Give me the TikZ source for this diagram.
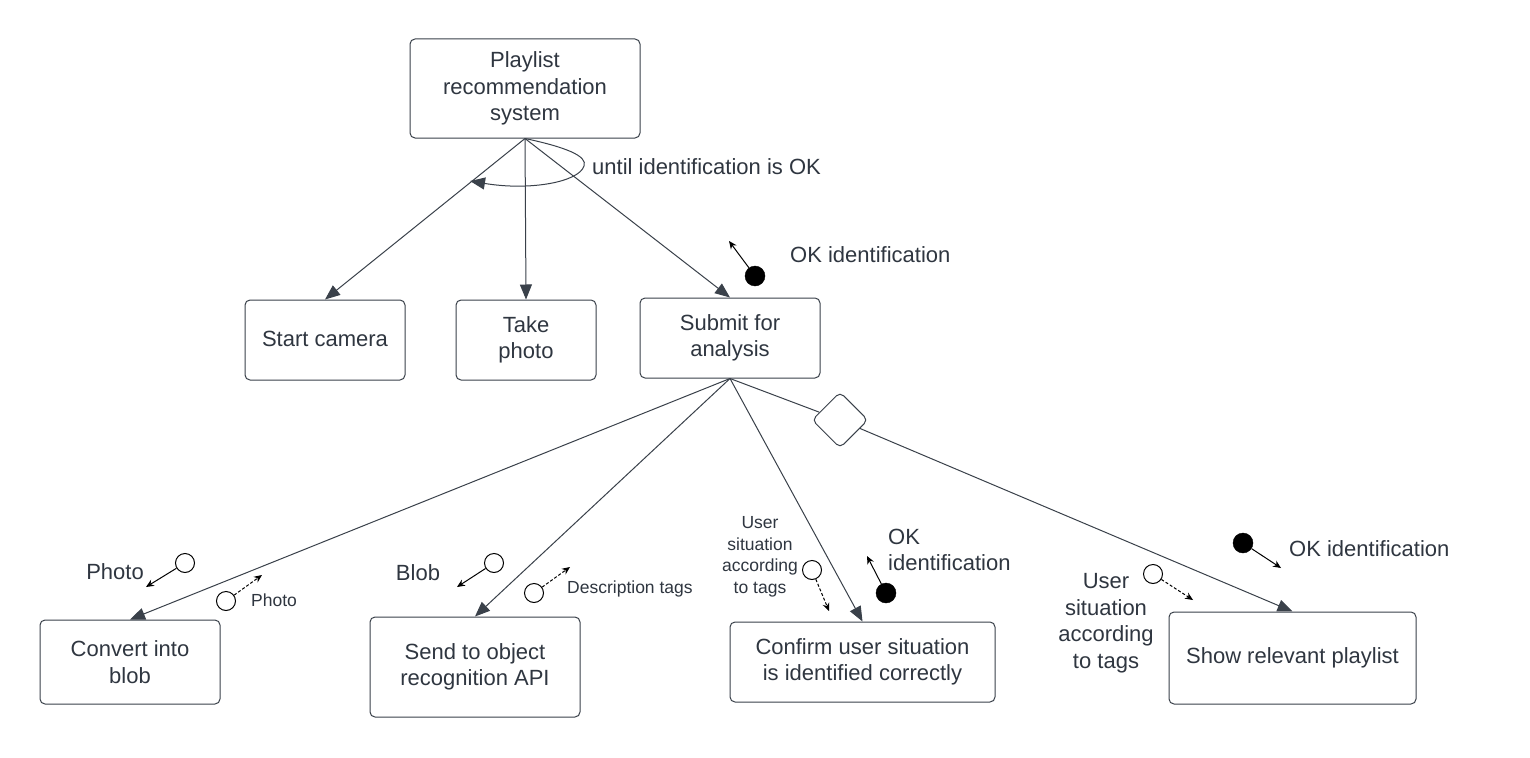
\documentclass[tikz,border=0pt]{standalone}
\usepackage{fontspec}
\setmainfont{Liberation Sans}
\usetikzlibrary{arrows.meta,shapes.geometric}
\definecolor{ln}{HTML}{3A414A}
\definecolor{txt}{HTML}{2F3640}
\tikzset{
  box/.style={draw=ln,line width=1pt,rounded corners=5pt,fill=white,align=center,text=txt,inner sep=0pt,
    font=\fontsize{22}{26.5}\selectfont},
  conn/.style={draw=ln,line width=1pt,-{Triangle[length=15pt,width=12pt]}},
  lbl/.style={text=txt,font=\fontsize{22}{26.5}\selectfont,inner sep=0pt},
  slbl/.style={text=txt,font=\fontsize{17.5}{21.5}\selectfont,inner sep=0pt},
  wdot/.style={circle,draw=black,line width=1pt,fill=white,minimum size=19pt,inner sep=0pt},
  bdot/.style={circle,draw=black,fill=black,minimum size=20pt,inner sep=0pt},
  tok/.style={draw=black,line width=1pt,-{Stealth[length=8pt,width=7pt]}},
  tokd/.style={tok,densely dashed},
}
\begin{document}
\begin{tikzpicture}[x=1pt,y=-1pt]
\useasboundingbox[fill=white] (0,0) rectangle (1530,757);
% main boxes
\node[box,minimum width=230pt,minimum height=99pt] (play) at (525,88.5) {Playlist\\recommendation\\system};
\node[box,minimum width=160pt,minimum height=80pt] (start) at (325,340) {\raisebox{3pt}{Start camera}};
\node[box,minimum width=140pt,minimum height=80pt] (take) at (526,340) {Take\\photo};
\node[box,minimum width=180pt,minimum height=80pt] (sub) at (730,338) {Submit for\\analysis};
\node[box,minimum width=180pt,minimum height=84pt] (conv) at (130,662) {Convert into\\blob};
\node[box,minimum width=210pt,minimum height=100pt] (send) at (475,667) {Send to object\\recognition API};
\node[box,minimum width=265pt,minimum height=80pt] (conf) at (862.5,662) {Confirm user situation\\is identified correctly};
\node[box,minimum width=247pt,minimum height=92pt] (show) at (1292.5,658) {Show relevant playlist};
\node[diamond,draw=ln,line width=1pt,rounded corners=5pt,minimum width=56pt,minimum height=56pt,inner sep=0pt,fill=white] (dia) at (840,420) {};

% connectors from top
\draw[conn] (play.south) -- (start.north);
\draw[conn] (play.south) -- (take.north);
\draw[conn] (play.south) -- (sub.north);
\draw[conn] (play.south) .. controls (565,147) and (588,156) .. (584,166)
  .. controls (579,182) and (530,191) .. (470,181);
\node[lbl,anchor=west] (until) at (592,167) {until identification is OK};

% connectors from submit
\draw[conn] (sub.south) -- (conv.north);
\draw[conn] (sub.south) -- (send.north);
\draw[conn] (sub.south) -- (conf.north);
\draw[draw=ln,line width=1pt] (sub.south) -- (dia);
\draw[conn] (dia) -- (show.north);

% tokens near submit
\node[bdot] (b1) at (755,276) {};
\coordinate (b1t) at (729,241);
\draw[tok] (b1) -- (b1t);
\node[lbl,anchor=west] (ok1) at (790,255) {OK identification};

% convert into blob tokens
\node[lbl] (ph1) at (115,572) {Photo};
\node[wdot] (w1) at (185,563) {};
\coordinate (w1t) at (146,587);
\draw[tok] (w1) -- (w1t);
\node[wdot] (w2) at (226,601) {};
\coordinate (w2t) at (262,575);
\draw[tokd] (w2) -- (w2t);
\node[slbl,anchor=west] (ph2) at (251,600) {Photo};

% send tokens
\node[lbl] (blob) at (418,573) {Blob};
\node[wdot] (w3) at (494,563) {};
\coordinate (w3t) at (457,587);
\draw[tok] (w3) -- (w3t);
\node[wdot] (w4) at (534,593) {};
\coordinate (w4t) at (570,567);
\draw[tokd] (w4) -- (w4t);
\node[slbl,anchor=west] (desc) at (567,589) {Description tags};

% confirm tokens
\node[slbl,align=center] (us1) at (760,557) {User\\situation\\according\\to tags};
\node[wdot] (w5) at (812,570) {};
\coordinate (w5t) at (829,611);
\draw[tokd] (w5) -- (w5t);
\node[bdot] (b2) at (886,593) {};
\coordinate (b2t) at (867,556);
\draw[tok] (b2) -- (b2t);
\node[lbl,align=left,anchor=west] (ok2) at (888,550) {OK\\identification};

% show tokens
\node[lbl,align=center] (us2) at (1106,623) {User\\situation\\according\\to tags};
\node[wdot] (w6) at (1153,574) {};
\coordinate (w6t) at (1193,600);
\draw[tokd] (w6) -- (w6t);
\node[bdot] (b3) at (1243,543) {};
\coordinate (b3t) at (1281,568);
\draw[tok] (b3) -- (b3t);
\node[lbl,anchor=west] (ok3) at (1289,549) {OK identification};
\end{tikzpicture}
\end{document}
